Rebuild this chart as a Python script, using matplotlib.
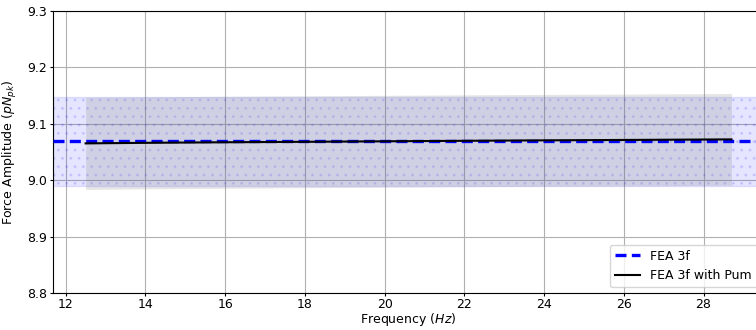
import numpy as np
import matplotlib
matplotlib.use("Agg")
import matplotlib.pyplot as plt

# FEA 3f (constant over frequency)
fea_mean = 9.0693
fea_err = 0.0787

# FEA 3f with Pum
freq_pum = [12.5, 14.0, 16.0, 18.0, 20.0, 22.0, 24.0, 26.0, 28.7]
force_pum = [9.0655, 9.0665, 9.0675, 9.0683, 9.0692, 9.0701, 9.0709, 9.0716, 9.0726]
err_pum = [0.0815, 0.0815, 0.0815, 0.0814, 0.0814, 0.0814, 0.0814, 0.0813, 0.0813]

freq_pum = np.array(freq_pum)
force_pum = np.array(force_pum)
err_pum = np.array(err_pum)

plt.rcParams["font.size"] = 9
plt.rcParams["xtick.major.size"] = 2.5
plt.rcParams["ytick.major.size"] = 2.5
plt.rcParams["xtick.major.pad"] = 1.0
plt.rcParams["ytick.major.pad"] = 1.5

fig = plt.figure(figsize=(7.56, 3.3), dpi=100)
# axes runs a little past the right edge, like the reference
ax = fig.add_axes([0.0697, 0.1112, 0.94, 0.8555])

ax.axhspan(fea_mean - fea_err, fea_mean + fea_err, color="blue", alpha=0.1, hatch="..", zorder=2)
ax.axhline(fea_mean, color="blue", ls=(0, (3.3, 1.6)), lw=2.4, label="FEA 3f", zorder=4)

ax.fill_between(freq_pum, force_pum - err_pum, force_pum + err_pum, color="grey", alpha=0.2, lw=0, zorder=3)
ax.plot(freq_pum, force_pum, color="black", lw=1.5, label="FEA 3f with Pum", zorder=5)

ax.set_xlim(11.674, 29.50)
ax.set_ylim(8.8, 9.3)
ax.set_xticks(np.arange(12, 30, 2))
ax.set_yticks(np.arange(8.8, 9.31, 0.1))
ax.grid(True, zorder=1)
ax.set_axisbelow(True)

ax.set_xlabel("Frequency ($Hz$)")
ax.set_ylabel("Force Amplitude ($pN_{pk}$)")
ax.xaxis.set_label_coords(0.5, -0.062)
ax.yaxis.set_label_coords(-0.048, 0.5)
ax.legend(loc="lower right")

fig.savefig("out.png", dpi=100)
